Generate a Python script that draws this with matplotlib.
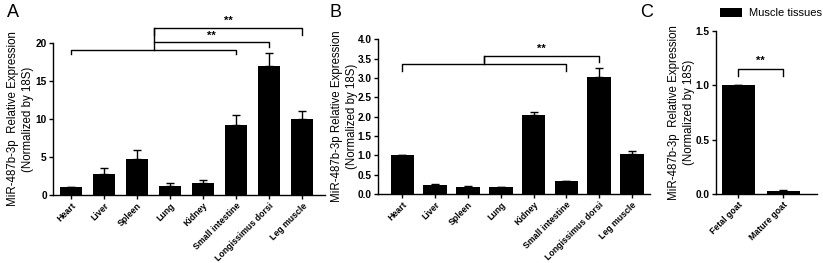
import matplotlib
matplotlib.use('Agg')
import matplotlib.pyplot as plt
import numpy as np

plt.rcParams['font.family'] = ['Liberation Sans', 'DejaVu Sans']

tissues = ['Heart', 'Liver', 'Spleen', 'Lung', 'Kidney', 'Small intestine',
           'Longissimus dorsi', 'Leg muscle']
a_vals = [1.0, 2.8, 4.7, 1.2, 1.5, 9.2, 17.0, 10.0]
a_errs = [0.0, 0.75, 1.2, 0.35, 0.45, 1.3, 1.7, 1.0]
b_vals = [1.02, 0.24, 0.19, 0.18, 2.03, 0.33, 3.03, 1.03]
b_errs = [0.0, 0.01, 0.01, 0.01, 0.1, 0.01, 0.22, 0.08]
goats = ['Fetal goat', 'Mature goat']
c_vals = [1.0, 0.03]
c_errs = [0.0, 0.005]

ylab = 'MiR-487b-3p  Relative Expression\n(Normalized by 18S)'

W = 823
fig = plt.figure(figsize=(8.23, 2.63), dpi=100)
axA = fig.add_axes([0.0644, 0.259, 0.331, 0.578])
axB = fig.add_axes([0.459, 0.262, 0.331, 0.589])
axC = fig.add_axes([0.870, 0.262, 0.123, 0.620])


def style(ax):
    for s in ['top', 'right']:
        ax.spines[s].set_visible(False)
    for s in ['left', 'bottom']:
        ax.spines[s].set_linewidth(1.0)
    ax.tick_params(axis='both', direction='out', length=3, width=1, pad=1.5)
    for lbl in ax.get_yticklabels():
        lbl.set_fontsize(7.3)
        lbl.set_fontweight('bold')
    for lbl in ax.get_xticklabels():
        lbl.set_fontsize(6.3)
        lbl.set_fontweight('bold')
        lbl.set_rotation(45)
        lbl.set_ha('right')
        lbl.set_rotation_mode('anchor')


def ylabel(ax, text, offset_px):
    ax.set_ylabel(text, fontsize=8.3, linespacing=1.3)
    width_px = ax.get_position().width * W
    ax.yaxis.set_label_coords(-offset_px / width_px, 0.5)


def bars(ax, names, vals, errs, width):
    x = np.arange(len(names))
    ax.bar(x, vals, width=width, color='black', zorder=2)
    ax.errorbar(x, vals, yerr=[np.zeros(len(errs)), errs], fmt='none',
                ecolor='black', elinewidth=1, capsize=3, capthick=1, zorder=1)
    ax.set_xticks(x)
    ax.set_xticklabels(names)
    return x


def bracket(ax, x0, x1, y, drop):
    ax.plot([x0, x0, x1, x1], [y - drop, y, y, y - drop], color='black',
            lw=1, clip_on=False)


# Panel A
bars(axA, tissues, a_vals, a_errs, 0.67)
axA.set_xlim(-0.55, 7.7)
axA.set_ylim(0, 20)
axA.set_yticks([0, 5, 10, 15, 20])
ylabel(axA, ylab, 19)
style(axA)
mid = 2.5
bracket(axA, 0, 5, 19.1, 0.6)
axA.plot([mid, mid], [19.1, 22.0], color='black', lw=1, clip_on=False)
bracket(axA, mid, 7, 22.0, 0.9)
axA.plot([mid, 6, 6], [20.1, 20.1, 19.5], color='black', lw=1, clip_on=False)
axA.text((mid + 7) / 2, 22.2, '**', ha='center', va='bottom', fontsize=8, fontweight='bold')
axA.text((mid + 6) / 2, 20.3, '**', ha='center', va='bottom', fontsize=8, fontweight='bold')

# Panel B
bars(axB, tissues, b_vals, b_errs, 0.72)
axB.set_xlim(-0.75, 7.55)
axB.set_ylim(0, 4.0)
bt = np.arange(0, 4.01, 0.5)
axB.set_yticks(bt)
axB.set_yticklabels([f'{v:.1f}' for v in bt])
ylabel(axB, ylab.replace('  ', ' '), 20)
style(axB)
midb = 2.5
bracket(axB, 0, 5, 3.36, 0.18)
axB.plot([midb, midb], [3.36, 3.57], color='black', lw=1, clip_on=False)
bracket(axB, midb, 6, 3.57, 0.15)
axB.text((midb + 6) / 2, 3.62, '**', ha='center', va='bottom', fontsize=8, fontweight='bold')

# Panel C
bars(axC, goats, c_vals, c_errs, 0.73)
axC.set_xlim(-0.49, 1.75)
axC.set_ylim(0, 1.5)
axC.set_yticks([0, 0.5, 1.0, 1.5])
axC.set_yticklabels(['0.0', '0.5', '1.0', '1.5'])
ylabel(axC, ylab, 21)
style(axC)
bracket(axC, 0, 1, 1.15, 0.06)
axC.text(0.5, 1.18, '**', ha='center', va='bottom', fontsize=8, fontweight='bold')
axC.bar([0], [0], color='black', label='Muscle tissues')
fig.legend(*axC.get_legend_handles_labels(), loc='upper left',
           bbox_to_anchor=(0.875, 0.97), frameon=False,
           fontsize=8, handlelength=2.0, handleheight=0.9, handletextpad=0.6,
           borderaxespad=0, borderpad=0)

# panel letters
fig.text(0.008, 0.985, 'A', fontsize=13, va='top')
fig.text(0.400, 0.985, 'B', fontsize=13, va='top')
fig.text(0.778, 0.985, 'C', fontsize=13, va='top')

fig.savefig('out.png', dpi=100)
